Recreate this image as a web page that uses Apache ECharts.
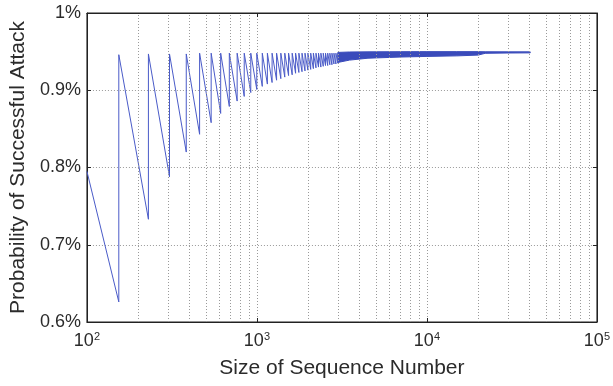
<!DOCTYPE html>
<html>
<head>
<meta charset="utf-8">
<script src="https://cdn.jsdelivr.net/npm/echarts@6/dist/echarts.min.js"></script>
<style>html,body{margin:0;padding:0;background:#fff;}#chart{width:613px;height:386px;}</style>
</head>
<body>
<div id="chart"></div>
<script>
// Start of the curve
const startSize = 100;
const startProb = 0.795;
// Sawtooth: sequence sizes where the curve drops to a trough and jumps back up
const jumpSizes = [154, 230, 306, 384, 460, 538, 612, 688, 765, 842, 920, 998, 1075, 1152, 1228, 1305, 1382, 1458, 1535, 1612, 1688, 1765, 1842, 1918, 1995, 2072, 2148, 2225, 2302, 2378, 2455, 2532, 2608, 2685, 2762, 2838, 2915, 2992];
const troughProb = [0.626, 0.733, 0.788, 0.820, 0.843, 0.858, 0.870, 0.879, 0.886, 0.892, 0.897, 0.901, 0.905, 0.908, 0.910, 0.913, 0.915, 0.917, 0.919, 0.920, 0.922, 0.923, 0.924, 0.925, 0.926, 0.927, 0.928, 0.929, 0.930, 0.930, 0.931, 0.932, 0.932, 0.933, 0.933, 0.934, 0.934, 0.935];
const peakProb = [0.946, 0.947, 0.947, 0.947, 0.948, 0.948, 0.948, 0.948, 0.948, 0.948, 0.948, 0.948, 0.948, 0.948, 0.948, 0.948, 0.948, 0.948, 0.948, 0.948, 0.948, 0.948, 0.948, 0.948, 0.948, 0.948, 0.948, 0.948, 0.948, 0.948, 0.948, 0.948, 0.948, 0.948, 0.948, 0.948, 0.948, 0.948];
// Dense tail (teeth too fine to separate): lower and upper edge of the band
const bandSizes = [2992, 3500, 4500, 7000, 10000, 15000, 20000, 22000, 30000, 40500];
const bandLower = [0.936, 0.939, 0.9415, 0.943, 0.9438, 0.9445, 0.9455, 0.9478, 0.9482, 0.9484];
const bandUpper = [0.9490, 0.9495, 0.9497, 0.9499, 0.9500, 0.9500, 0.9500, 0.9498, 0.9497, 0.9497];
// Axis ticks
const xMajorTicks = [100, 1000, 10000, 100000];
const xMinorTicks = [200, 300, 400, 500, 600, 700, 800, 900, 2000, 3000, 4000, 5000, 6000, 7000, 8000, 9000, 20000, 30000, 40000, 50000, 60000, 70000, 80000, 90000];
const yTicks = [0.6, 0.7, 0.8, 0.9, 1.0];

const sawData = [[startSize, startProb]];
for (let i = 0; i < jumpSizes.length; i++) {
  sawData.push([jumpSizes[i], troughProb[i]]);
  sawData.push([jumpSizes[i], peakProb[i]]);
}
const bandData = bandSizes.map((s, i) => [s, bandLower[i], bandUpper[i]]);

const FONT = 'Liberation Sans, Arial, Helvetica, sans-serif';
const TXT = '#2b2b2b';
const LINE = '#4a5bc8';
const gridLine = { color: '#9a9a9a', width: 1, type: [1, 2] };

const chart = echarts.init(document.getElementById('chart'), null, { renderer: 'canvas' });
chart.setOption({
  animation: false,
  backgroundColor: '#fff',
  grid: { left: 86, right: 11, top: 13, bottom: 64, show: true, borderColor: '#222', borderWidth: 1, containLabel: false },
  xAxis: [{
    type: 'log', logBase: 10, min: xMajorTicks[0], max: xMajorTicks[xMajorTicks.length - 1],
    name: 'Size of Sequence Number', nameLocation: 'middle', nameGap: 36,
    nameTextStyle: { fontFamily: FONT, fontSize: 21, color: TXT },
    axisLine: { show: true, lineStyle: { color: '#222', width: 1 } },
    axisTick: { show: true, inside: true, length: 4, lineStyle: { color: '#222' } },
    splitLine: { show: true, lineStyle: gridLine },
    axisLabel: {
      margin: 9, color: TXT, fontFamily: FONT,
      formatter: v => '{b|10}{s|' + Math.round(Math.log10(v)) + '}',
      rich: {
        b: { fontSize: 18, fontFamily: FONT, color: TXT, lineHeight: 20 },
        s: { fontSize: 11, fontFamily: FONT, color: TXT, verticalAlign: 'top', lineHeight: 8 }
      }
    }
  }, {
    type: 'log', logBase: 10, min: xMajorTicks[0], max: xMajorTicks[xMajorTicks.length - 1], position: 'top',
    axisLine: { show: true, lineStyle: { color: '#222' } },
    axisTick: { show: true, inside: true, length: 4, lineStyle: { color: '#222' } },
    axisLabel: { show: false }, splitLine: { show: false }
  }],
  yAxis: [{
    type: 'value', min: yTicks[0], max: yTicks[yTicks.length - 1], interval: 0.1,
    name: 'Probability of Successful Attack', nameLocation: 'middle', nameGap: 57,
    nameTextStyle: { fontFamily: FONT, fontSize: 21, color: TXT },
    axisLine: { show: true, lineStyle: { color: '#222' } },
    axisTick: { show: true, inside: true, length: 4, lineStyle: { color: '#222' } },
    splitLine: { show: true, lineStyle: gridLine },
    axisLabel: { margin: 6, color: TXT, fontFamily: FONT, fontSize: 18, formatter: v => (+v.toFixed(1)) + '%' }
  }, {
    type: 'value', min: yTicks[0], max: yTicks[yTicks.length - 1], interval: 0.1, position: 'right',
    axisLine: { show: true, lineStyle: { color: '#222' } },
    axisTick: { show: true, inside: true, length: 4, lineStyle: { color: '#222' } },
    axisLabel: { show: false }, splitLine: { show: false }
  }],
  series: [{
    type: 'line', name: 'minorgrid', data: [], silent: true,
    markLine: {
      silent: true, symbol: ['none', 'none'], animation: false,
      label: { show: false }, lineStyle: gridLine, emphasis: { disabled: true },
      data: xMinorTicks.map(v => ({ xAxis: v }))
    }
  }, {
    type: 'custom', name: 'band', data: bandData, silent: true,
    encode: { x: 0, y: [1, 2] },
    renderItem: function (params, api) {
      if (params.dataIndex !== 0) return null;
      const upper = bandData.map(d => api.coord([d[0], d[2]]));
      const lower = bandData.map(d => api.coord([d[0], d[1]])).reverse();
      return {
        type: 'polygon',
        shape: { points: upper.concat(lower) },
        style: { fill: '#3a4bbb', stroke: '#3a4bbb', lineWidth: 1 }
      };
    }
  }, {
    type: 'line', name: 'prob', data: sawData, symbol: 'none',
    lineStyle: { width: 1, color: LINE }, silent: true
  }]
});
</script>
</body>
</html>
